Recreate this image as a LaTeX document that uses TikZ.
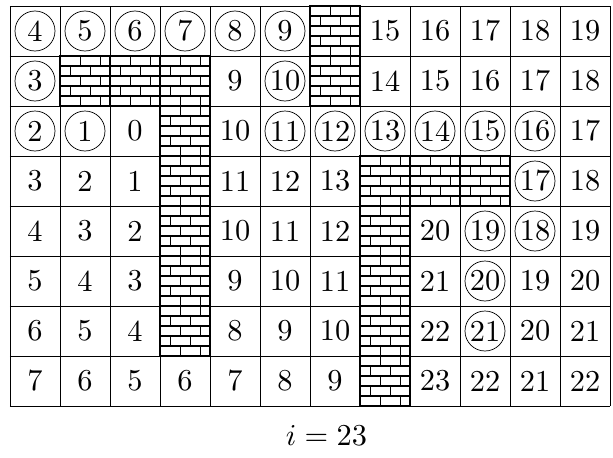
\documentclass[tikz,border=0pt]{standalone}
\usepackage{tikz}
\usetikzlibrary{positioning}

\tikzset{
  pics/wall/.style={code={
    \draw[brick] (0,0) rectangle (1,1);
    \foreach \y in {0.2,0.4,0.6,0.8} \draw[brick] (0,\y) -- (1,\y);
    \foreach \y in {0,0.4,0.8} \draw[brick] (0.41,\y) -- ++(0,0.2) (0.81,\y) -- ++(0,0.2);
    \foreach \y in {0.2,0.6} \draw[brick] (0.21,\y) -- ++(0,0.2) (0.61,\y) -- ++(0,0.2);
  }}
}
\newcommand*\wallmark{w}
\newcommand\bignum[1]{\scalebox{1.728}{#1}}

\begin{document}
\begin{tikzpicture}[
  brick/.style={line width=0.6pt},
  num/.style={inner sep=0pt},
  ring/.style={thin}
]
\useasboundingbox (-0.2,-1.02) rectangle (12.06,8.12);

\draw[thin] (0,0) grid (12,8);

% walls
\foreach \c/\r in {6/0, 1/1, 2/1, 3/1, 6/1, 3/2, 3/3, 7/3, 8/3, 9/3,
                   3/4, 7/4, 3/5, 7/5, 3/6, 7/6, 7/7}
  \pic at (\c,7-\r) {wall};

% distances, w = wall
\foreach \row [count=\r from 0] in {
  {4,5,6,7,8,9,w,15,16,17,18,19},
  {3,w,w,w,9,10,w,14,15,16,17,18},
  {2,1,0,w,10,11,12,13,14,15,16,17},
  {3,2,1,w,11,12,13,w,w,w,17,18},
  {4,3,2,w,10,11,12,w,20,19,18,19},
  {5,4,3,w,9,10,11,w,21,20,19,20},
  {6,5,4,w,8,9,10,w,22,21,20,21},
  {7,6,5,6,7,8,9,w,23,22,21,22}}
{
  \foreach \v [count=\c from 0] in \row {
    \edef\cellv{\v}
    \ifx\cellv\wallmark\else
      \node[num] (n-\c-\r) at (\c+0.5,7.5-\r) {\bignum{\v}};
    \fi
  }
}

% path
\foreach \c/\r in {0/0, 1/0, 2/0, 3/0, 4/0, 5/0, 0/1, 5/1, 0/2, 1/2, 5/2, 6/2,
                   7/2, 8/2, 9/2, 10/2, 10/3, 9/4, 10/4, 9/5, 9/6}
  \draw[ring] (n-\c-\r) circle[radius=0.4];

\node[num] (iter) at (6.33,-0.59) {\bignum{$i = 23$}};

\end{tikzpicture}
\end{document}
